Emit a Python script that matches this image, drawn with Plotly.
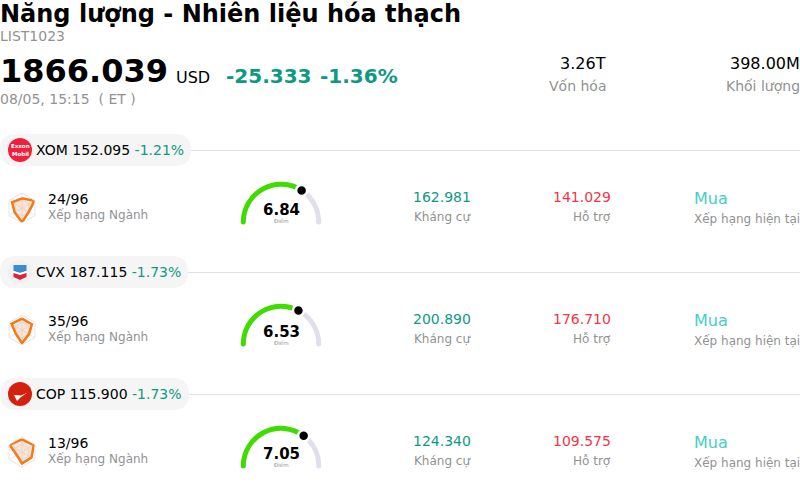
import plotly.graph_objects as go

W, H = 800, 488
FONT = "DejaVu Sans"
GREEN = "#0e9a82"
RED = "#f23645"
GREY = "#929292"
BLACK = "#000000"
LINE = "#e0e0ec"

# header values
title = "Năng lượng - Nhiên liệu hóa thạch"
list_code = "LIST1023"
price = "1866.039"
change = "-25.333"
change_pct = "-1.36%"
timestamp = "08/05, 15:15  ( ET )"
market_cap = "3.26T"
volume = "398.00M"

# one entry per stock row
tickers = ["XOM", "CVX", "COP"]
prices = ["152.095", "187.115", "115.900"]
pct_changes = ["-1.21%", "-1.73%", "-1.73%"]
ranks = ["24/96", "35/96", "13/96"]
scores = [6.84, 6.53, 7.05]
resistance = ["162.981", "200.890", "124.340"]
support = ["141.029", "176.710", "109.575"]
ratings = ["Mua", "Mua", "Mua"]

# radar icon values, clockwise from the top
radar_axes = ["a", "b", "c", "d", "e", "f"]
radar_values = [
    [0.68, 1.0, 0.55, 1.0, 0.6, 0.8],
    [0.8, 0.8, 0.57, 0.93, 0.5, 0.85],
    [0.88, 0.95, 0.77, 0.8, 0.42, 1.0],
]

row_tops = [134, 256, 378]
pill_widths = [191, 188, 189]


def fx(px):
    return px / W


def fy(px):
    return 1 - px / H


def add_text(fig, x, y, text, size, color=BLACK, anchor="left", bold=False):
    if bold:
        text = "<b>" + text + "</b>"
    fig.add_annotation(
        x=fx(x), y=fy(y), xref="paper", yref="paper", text=text, showarrow=False,
        xanchor=anchor, yanchor="middle", xshift=0, borderpad=0, borderwidth=0,
        font=dict(family=FONT, size=size, color=color),
    )


def add_path(fig, points, fill):
    path = "M " + " L ".join(f"{fx(x)},{fy(y)}" for x, y in points) + " Z"
    fig.add_shape(type="path", path=path, xref="paper", yref="paper",
                  fillcolor=fill, line=dict(width=0), layer="above")


def add_circle(fig, cx, cy, r, fill):
    fig.add_shape(type="circle", xref="paper", yref="paper",
                  x0=fx(cx - r), x1=fx(cx + r), y0=fy(cy + r), y1=fy(cy - r),
                  fillcolor=fill, line=dict(width=0), layer="above")


def pill_path(x0, y0, x1, y1):
    r = (y1 - y0) / 2
    # paper units differ per axis so the corner is written in both
    rx, ry = r / W, r / H
    return (f"M {fx(x0) + rx},{fy(y0)} L {fx(x1) - rx},{fy(y0)} "
            f"Q {fx(x1)},{fy(y0)} {fx(x1)},{fy(y0) - ry} "
            f"Q {fx(x1)},{fy(y1)} {fx(x1) - rx},{fy(y1)} "
            f"L {fx(x0) + rx},{fy(y1)} "
            f"Q {fx(x0)},{fy(y1)} {fx(x0)},{fy(y1) + ry} "
            f"Q {fx(x0)},{fy(y0)} {fx(x0) + rx},{fy(y0)} Z")


def add_logo(fig, ticker, cy):
    if ticker == "XOM":
        add_circle(fig, 20, cy, 12, "#f0203c")
        add_text(fig, 20, cy - 3.5, "Exxon", 5.5, "white", "center", True)
        add_text(fig, 20, cy + 3.5, "Mobil", 5.5, "white", "center", True)
    elif ticker == "CVX":
        add_circle(fig, 20, cy, 12, "#f0f0f3")
        add_path(fig, [(13.5, cy - 7), (26.5, cy - 7), (26.5, cy - 1), (20, cy + 1), (13.5, cy - 1)], "#3a8cd0")
        add_path(fig, [(13.5, cy - 1), (20, cy + 1), (26.5, cy - 1), (26.5, cy + 1), (20, cy + 3), (13.5, cy + 1)], "#ffffff")
        add_path(fig, [(13.5, cy + 1), (20, cy + 3), (26.5, cy + 1), (26.5, cy + 5), (20, cy + 8), (13.5, cy + 5)], "#d8253c")
    else:
        add_circle(fig, 20, cy, 12, "#d4200f")
        add_path(fig, [(14, cy + 1), (21, cy + 1.5), (27.5, cy - 1.5), (21, cy + 3), (17, cy + 7)], "#ffffff")


fig = go.Figure()
layout_polars = {}


def next_polar():
    return f"polar{len(layout_polars) + 1}" if layout_polars else "polar"


for i, ticker in enumerate(tickers):
    top = row_tops[i]
    mid = top + 16

    # pill header with rule behind it
    fig.add_shape(type="line", xref="paper", yref="paper", x0=fx(pill_widths[i]), x1=1,
                  y0=fy(mid + 0.5), y1=fy(mid + 0.5), line=dict(color=LINE, width=1))
    fig.add_shape(type="path", xref="paper", yref="paper",
                  path=pill_path(0, top, pill_widths[i], top + 32),
                  fillcolor="#f5f5f5", line=dict(width=0))
    add_logo(fig, ticker, mid)
    add_text(fig, 36, mid,
             f"{ticker} {prices[i]} <span style='color:{GREEN}'>{pct_changes[i]}</span>", 14)

    # radar icon
    name = next_polar()
    layout_polars[name] = dict(
        domain=dict(x=[fx(7), fx(37)], y=[fy(top + 89), fy(top + 59)]),
        bgcolor="rgba(0,0,0,0)",
        gridshape="linear",
        radialaxis=dict(range=[0, 1.05], tickvals=[0.55, 1.05], showticklabels=False, ticks="",
                        showline=False, gridcolor="#e4e4ee", gridwidth=1),
        angularaxis=dict(direction="clockwise", rotation=90, showticklabels=False, ticks="",
                         linecolor="#e4e4ee", gridcolor="#e8e8f0"),
    )
    fig.add_trace(go.Scatterpolar(
        r=radar_values[i] + radar_values[i][:1], theta=radar_axes + radar_axes[:1],
        subplot=name, mode="lines", fill="toself", fillcolor="rgba(240,170,130,0.3)",
        line=dict(color="#f57a14", width=2.5, shape="linear"), showlegend=False,
    ))
    add_text(fig, 48, top + 65, ranks[i], 14)
    add_text(fig, 48, top + 81, "Xếp hạng Ngành", 12, GREY)

    # score gauge, 0-10 maps to the upper half circle; sector runs a bit past it for the caps
    name = next_polar()
    cy = top + 88
    layout_polars[name] = dict(
        domain=dict(x=[fx(240), fx(322)], y=[fy(cy + 3.6), fy(cy - 41)]),
        sector=[-5, 185],
        bgcolor="rgba(0,0,0,0)",
        radialaxis=dict(visible=False, range=[0, 1]),
        angularaxis=dict(visible=False, direction="clockwise", rotation=180, thetaunit="degrees"),
    )
    fig.add_trace(go.Barpolar(
        r=[0.12], base=[0.86], theta=[(scores[i] + 10) * 9], width=[(10 - scores[i]) * 18],
        subplot=name, marker=dict(color="#e0e0ec", line=dict(width=0)), showlegend=False,
    ))
    fig.add_trace(go.Barpolar(
        r=[0.12], base=[0.86], theta=[scores[i] * 9], width=[scores[i] * 18],
        subplot=name, marker=dict(color="#3fdc00", line=dict(width=0)), showlegend=False,
    ))
    fig.add_trace(go.Scatterpolar(
        r=[0.92, 0.92], theta=[0, 180], subplot=name, mode="markers", cliponaxis=False,
        marker=dict(size=5, color=["#3fdc00", "#e0e0ec"]), showlegend=False,
    ))
    fig.add_trace(go.Scatterpolar(
        r=[0.92], theta=[scores[i] * 18], subplot=name, mode="markers", cliponaxis=False,
        marker=dict(size=11, color=BLACK, line=dict(color="white", width=2.5)), showlegend=False,
    ))
    add_text(fig, 281, top + 76, f"{scores[i]:.2f}", 15, BLACK, "center", True)
    add_text(fig, 281, top + 87, "Điểm", 5.5, GREY, "center")

    # resistance, support, rating
    add_text(fig, 471, top + 63, resistance[i], 14, GREEN, "right")
    add_text(fig, 471, top + 83, "Kháng cự", 12, GREY, "right")
    add_text(fig, 611, top + 63, support[i], 14, RED, "right")
    add_text(fig, 611, top + 83, "Hỗ trợ", 12, GREY, "right")
    add_text(fig, 694, top + 64, ratings[i], 16, "#45cfc3")
    add_text(fig, 694, top + 85, "Xếp hạng hiện tại", 12, GREY)

# header
add_text(fig, 0, 14, title, 24, BLACK, bold=True)
add_text(fig, 0, 36.5, list_code, 14, GREY)
add_text(fig, 0, 71, price, 32, BLACK, bold=True)
add_text(fig, 176, 77, "USD", 16)
add_text(fig, 226, 76, change, 20, GREEN, bold=True)
add_text(fig, 320, 76, change_pct, 20, GREEN, bold=True)
add_text(fig, 0, 98.5, timestamp, 14, GREY)
add_text(fig, 606, 63.5, market_cap, 16, BLACK, "right")
add_text(fig, 606, 86, "Vốn hóa", 14, GREY, "right")
add_text(fig, 800, 63.5, volume, 16, BLACK, "right")
add_text(fig, 800, 86, "Khối lượng", 14, GREY, "right")

fig.update_layout(
    width=W, height=H, margin=dict(l=0, r=0, t=0, b=0),
    paper_bgcolor="white", plot_bgcolor="white", showlegend=False,
    font=dict(family=FONT), **layout_polars,
)

# the page's default body margin would push everything 8px in
fig.write_html("out.html", config=dict(displayModeBar=False),
               post_script="document.body.style.margin='0';")
